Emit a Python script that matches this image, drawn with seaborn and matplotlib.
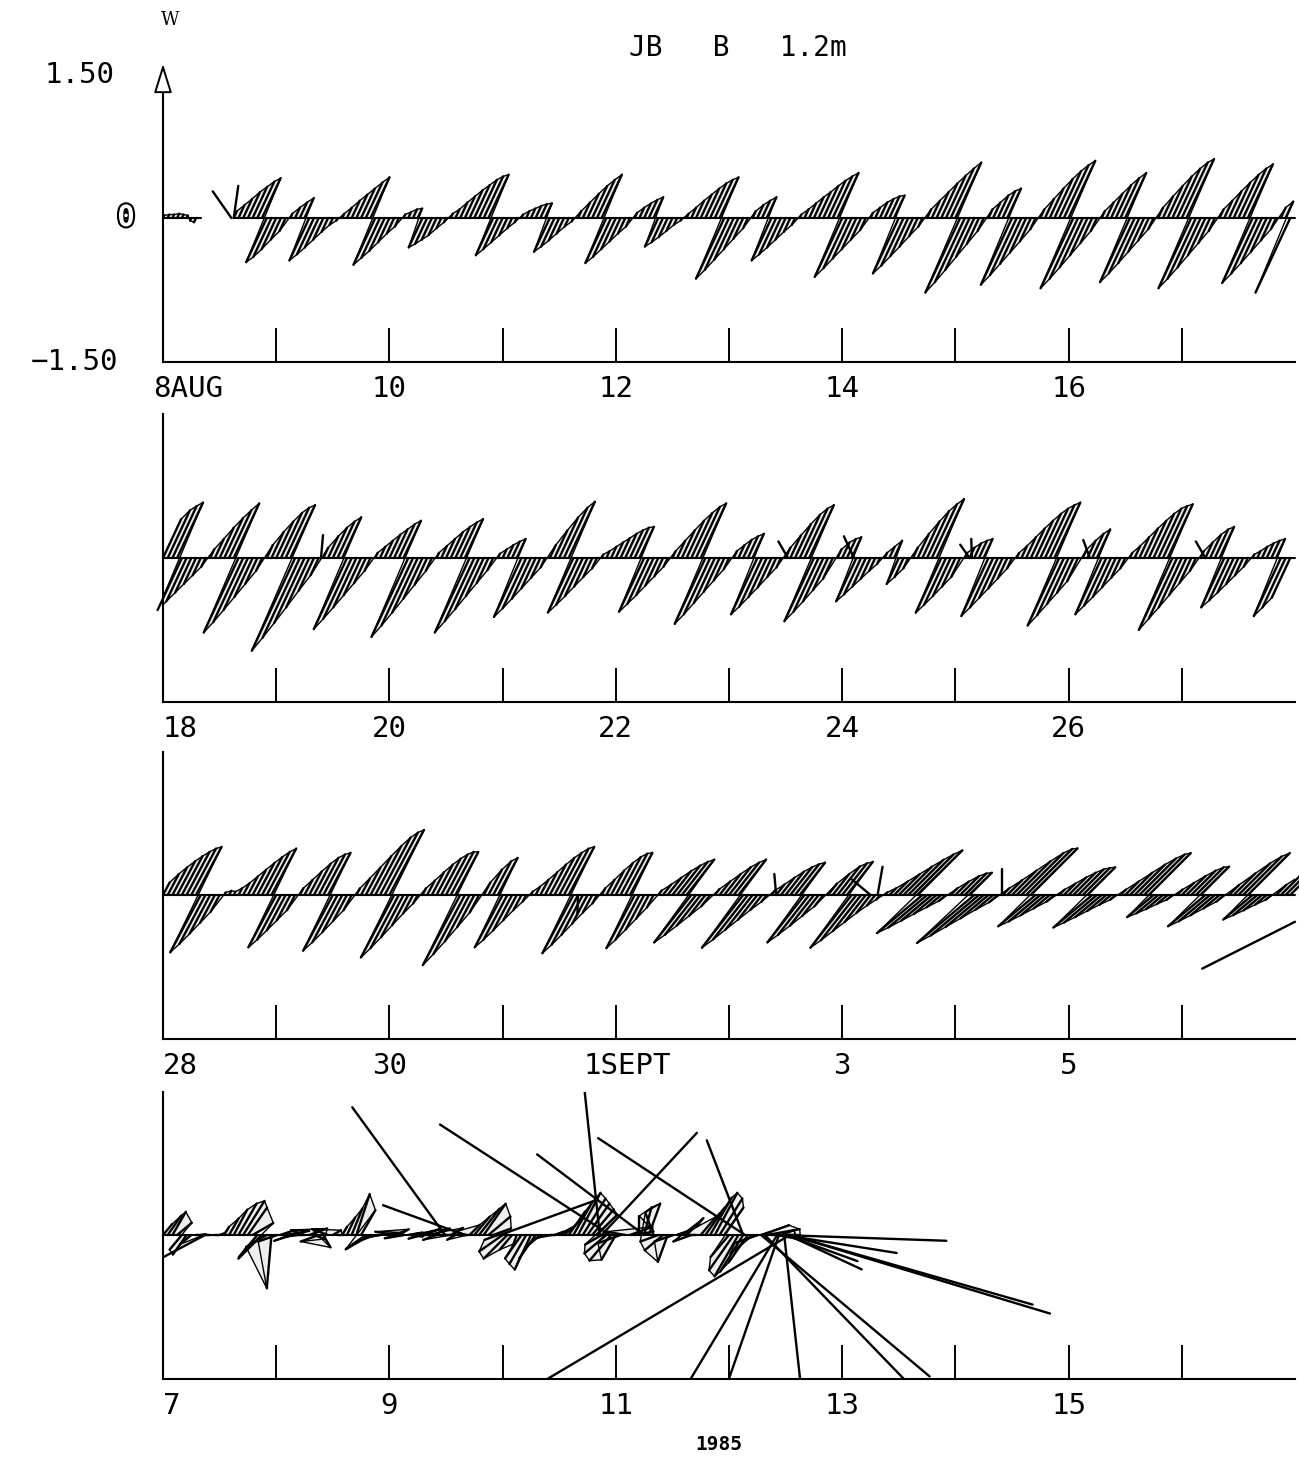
import numpy as np
import pandas as pd
import matplotlib
matplotlib.use("Agg")
import matplotlib.pyplot as plt
import matplotlib.patheffects as pe
from matplotlib.collections import LineCollection, PolyCollection
import seaborn as sns

# ---------------------------------------------------------------- data
# Panels 1-3: hourly current along the principal axis (+ flood, - ebb),
# grouped by tidal cycle: start hour of each cycle and its hourly values.
p1_start = [0, 15, 27, 38, 51, 61, 76, 88, 100, 111, 125, 135, 150, 162, 175, 186, 199, 211, 224, 237]
p1_vals = [
    [0.03, 0.04, 0.04, 0.05, 0.04, 0.03, -0.03, -0.05],
    [0.08, 0.15, 0.22, 0.30, 0.36, 0.42, 0.46, -0.51, -0.45, -0.36, -0.25, -0.15],
    [0.05, 0.12, 0.18, 0.23, -0.49, -0.42, -0.34, -0.25, -0.16, -0.08, -0.03],
    [0.05, 0.12, 0.20, 0.27, 0.34, 0.41, 0.47, -0.54, -0.46, -0.38, -0.28, -0.18, -0.10],
    [0.04, 0.07, 0.10, 0.11, -0.34, -0.30, -0.25, -0.20, -0.12, -0.05],
    [0.05, 0.10, 0.18, 0.25, 0.32, 0.38, 0.44, 0.48, 0.50, -0.43, -0.36, -0.28, -0.20, -0.12, -0.05],
    [0.04, 0.08, 0.11, 0.14, 0.16, 0.17, -0.39, -0.33, -0.26, -0.18, -0.10, -0.04],
    [0.08, 0.18, 0.28, 0.37, 0.44, 0.50, -0.52, -0.45, -0.36, -0.27, -0.18, -0.10],
    [0.06, 0.12, 0.17, 0.21, 0.24, -0.33, -0.28, -0.22, -0.15, -0.08, -0.03],
    [0.05, 0.12, 0.20, 0.27, 0.34, 0.40, 0.44, 0.47, -0.70, -0.60, -0.48, -0.36, -0.24, -0.12],
    [0.08, 0.15, 0.20, 0.24, -0.49, -0.42, -0.34, -0.25, -0.16, -0.08],
    [0.04, 0.10, 0.17, 0.24, 0.30, 0.37, 0.43, 0.48, 0.52, -0.68, -0.58, -0.47, -0.36, -0.25, -0.14],
    [0.06, 0.12, 0.18, 0.22, 0.25, 0.26, -0.64, -0.55, -0.44, -0.33, -0.21, -0.10],
    [0.10, 0.20, 0.30, 0.40, 0.49, 0.57, 0.64, -0.86, -0.74, -0.60, -0.45, -0.30, -0.15],
    [0.10, 0.18, 0.26, 0.31, 0.34, -0.77, -0.66, -0.53, -0.40, -0.27, -0.13],
    [0.10, 0.22, 0.34, 0.45, 0.54, 0.61, 0.66, -0.81, -0.70, -0.57, -0.43, -0.29, -0.15],
    [0.08, 0.18, 0.28, 0.38, 0.46, 0.52, -0.74, -0.64, -0.52, -0.39, -0.26, -0.13],
    [0.12, 0.25, 0.37, 0.48, 0.57, 0.64, 0.68, -0.81, -0.70, -0.57, -0.43, -0.29, -0.15],
    [0.10, 0.20, 0.31, 0.41, 0.50, 0.57, 0.62, -0.75, -0.64, -0.52, -0.39, -0.26, -0.13],
    [0.12, 0.19, -0.86],
]
p1_updir = [65] * 20
p1_dndir = [245] * 20
p1_extra_t = [14.5, 15.0]
p1_extra_spd = [0.34, 0.34]
p1_extra_dir = [125, 82]

p2_start = [0, 10, 22, 34, 45, 58, 71, 82, 93, 108, 121, 132, 143, 153, 159, 170, 181, 195, 205, 220, 231]
p2_vals = [
    [0.45, 0.55, 0.60, 0.64, -0.60, -0.50, -0.40, -0.30, -0.20, -0.10],
    [0.10, 0.22, 0.35, 0.46, 0.55, 0.63, -0.86, -0.74, -0.60, -0.45, -0.30, -0.15],
    [0.15, 0.30, 0.42, 0.52, 0.58, 0.61, -1.07, -0.92, -0.75, -0.57, -0.38, -0.20],
    [0.12, 0.25, 0.35, 0.42, 0.47, -0.82, -0.70, -0.57, -0.43, -0.29, -0.15],
    [0.06, 0.13, 0.20, 0.27, 0.33, 0.39, 0.43, -0.91, -0.78, -0.63, -0.47, -0.31, -0.15],
    [0.06, 0.14, 0.22, 0.30, 0.36, 0.41, 0.45, -0.86, -0.73, -0.59, -0.44, -0.29, -0.14],
    [0.05, 0.10, 0.15, 0.19, 0.22, -0.68, -0.58, -0.47, -0.35, -0.23, -0.11],
    [0.15, 0.32, 0.47, 0.58, 0.65, -0.63, -0.54, -0.44, -0.33, -0.22, -0.12],
    [0.04, 0.08, 0.13, 0.18, 0.23, 0.28, 0.32, 0.35, 0.36, -0.62, -0.53, -0.43, -0.32, -0.21, -0.10],
    [0.08, 0.20, 0.32, 0.43, 0.52, 0.59, 0.63, -0.76, -0.65, -0.52, -0.39, -0.26, -0.13],
    [0.08, 0.15, 0.21, 0.25, 0.28, -0.65, -0.56, -0.45, -0.34, -0.22, -0.11],
    [0.12, 0.26, 0.39, 0.50, 0.57, 0.61, -0.73, -0.62, -0.50, -0.37, -0.24],
    [0.10, 0.18, 0.22, 0.24, -0.50, -0.42, -0.33, -0.24, -0.15, -0.07],
    [0.06, 0.13, 0.20, -0.30, -0.22, -0.12],
    [0.12, 0.28, 0.42, 0.54, 0.62, 0.68, -0.63, -0.54, -0.44, -0.33, -0.22],
    [0.06, 0.12, 0.17, 0.20, 0.22, -0.67, -0.57, -0.46, -0.35, -0.24, -0.12],
    [0.06, 0.14, 0.24, 0.34, 0.43, 0.51, 0.57, 0.61, 0.64, -0.78, -0.66, -0.53, -0.40, -0.27],
    [0.10, 0.20, 0.28, 0.33, -0.65, -0.55, -0.45, -0.34, -0.23, -0.12],
    [0.06, 0.14, 0.24, 0.34, 0.43, 0.51, 0.57, 0.60, 0.62, -0.83, -0.70, -0.57, -0.43, -0.29, -0.15],
    [0.08, 0.18, 0.27, 0.33, 0.36, -0.57, -0.49, -0.40, -0.30, -0.20, -0.10],
    [0.04, 0.08, 0.13, 0.17, 0.20, 0.22, -0.67, -0.57, -0.46],
]
p2_updir = [65] * 21
p2_dndir = [245] * 21
p2_extra_t = [33.5, 132.5, 146.5, 171.0, 171.5, 196.5, 221.0]
p2_extra_spd = [0.24, 0.20, 0.25, 0.17, 0.20, 0.20, 0.20]
p2_extra_dir = [85, 120, 115, 125, 92, 110, 120]

p3_start = [0, 13, 29, 41, 55, 68, 78, 93, 105, 117, 129, 141, 153, 167, 178, 190, 203, 215, 226, 236]
p3_vals = [
    [0.15, 0.25, 0.33, 0.40, 0.46, 0.51, 0.55, 0.57, -0.68, -0.58, -0.46, -0.33, -0.20],
    [0.03, 0.05, 0.04, 0.08, 0.14, 0.22, 0.30, 0.38, 0.45, 0.51, 0.55, -0.62, -0.53, -0.42, -0.30, -0.18],
    [0.08, 0.18, 0.28, 0.37, 0.44, 0.48, 0.50, -0.66, -0.56, -0.44, -0.31, -0.18],
    [0.08, 0.20, 0.33, 0.46, 0.58, 0.68, 0.74, 0.77, -0.74, -0.63, -0.50, -0.36, -0.22, -0.10],
    [0.08, 0.17, 0.27, 0.36, 0.43, 0.48, 0.51, 0.51, -0.83, -0.70, -0.55, -0.38, -0.21],
    [0.15, 0.30, 0.40, 0.44, -0.62, -0.53, -0.42, -0.30, -0.18, -0.08],
    [0.04, 0.10, 0.18, 0.27, 0.36, 0.44, 0.50, 0.55, 0.57, -0.69, -0.59, -0.47, -0.34, -0.21, -0.10],
    [0.08, 0.18, 0.29, 0.38, 0.45, 0.49, 0.50, -0.63, -0.53, -0.41, -0.28, -0.15],
    [0.06, 0.14, 0.23, 0.32, 0.39, 0.44, 0.47, -0.63, -0.53, -0.41, -0.28, -0.15],
    [0.08, 0.18, 0.28, 0.37, 0.43, 0.47, -0.70, -0.59, -0.46, -0.33, -0.20, -0.09],
    [0.06, 0.14, 0.23, 0.31, 0.37, 0.41, 0.43, -0.63, -0.53, -0.41, -0.28, -0.15],
    [0.15, 0.28, 0.38, 0.42, 0.44, -0.70, -0.60, -0.48, -0.36, -0.24, -0.14, -0.06],
    [0.04, 0.10, 0.20, 0.31, 0.42, 0.52, 0.60, 0.66, -0.62, -0.53, -0.42, -0.31, -0.20, -0.10],
    [0.10, 0.20, 0.28, 0.32, 0.33, -0.78, -0.66, -0.52, -0.38, -0.24, -0.12],
    [0.10, 0.22, 0.36, 0.50, 0.62, 0.68, 0.69, -0.51, -0.43, -0.33, -0.22, -0.11],
    [0.08, 0.17, 0.26, 0.33, 0.38, 0.40, 0.41, -0.53, -0.45, -0.36, -0.26, -0.16, -0.08],
    [0.08, 0.20, 0.33, 0.45, 0.54, 0.60, 0.62, -0.36, -0.30, -0.23, -0.15, -0.08],
    [0.08, 0.18, 0.28, 0.36, 0.41, 0.42, -0.51, -0.43, -0.33, -0.22, -0.11],
    [0.15, 0.32, 0.47, 0.57, 0.62, -0.40, -0.33, -0.25, -0.16, -0.08],
    [0.15, 0.28, 0.38, 0.42],
]
p3_updir = [62, 62, 62, 62, 62, 62, 62, 62, 52, 52, 52, 52, 45, 45, 45, 45, 45, 45, 45, 45]
p3_dndir = [242, 242, 242, 242, 242, 242, 242, 242, 232, 232, 232, 232, 220, 220, 220, 220, 220, 220, 220, 220]
p3_extra_t = [88.0, 130.0, 150.0, 151.5, 177.8]
p3_extra_spd = [0.20, 0.22, 0.25, 0.30, 0.27]
p3_extra_dir = [268, 95, 140, 80, 90]
p3_free_x = [9.18, 10.0]      # detached segment, days
p3_free_y = [-0.77, -0.28]

# Panel 4: hourly small vectors (speed, direction in degrees) then large excursions
p4_small_spd = [0.15, 0.25, 0.28, 0.20, 0.20, 0.25, 0.15, 0.08, 0.05, 0.03,
                0.03, 0.04, 0.05, 0.10, 0.20, 0.30, 0.38, 0.42, 0.35, 0.25,
                0.30, 0.35, 0.25, 0.56, 0.20, 0.15, 0.25, 0.18, 0.10, 0.05,
                0.15, 0.20, 0.12, 0.20, 0.15, 0.18, 0.10, 0.05, 0.10, 0.20,
                0.30, 0.45, 0.30, 0.25, 0.30, 0.20, 0.15, 0.10, 0.15, 0.20,
                0.12, 0.20, 0.15, 0.10, 0.25, 0.15, 0.10, 0.20, 0.15, 0.10,
                0.20, 0.15, 0.10, 0.08, 0.10, 0.15, 0.25, 0.35, 0.40, 0.30,
                0.20, 0.15, 0.30, 0.35, 0.20, 0.10, 0.30, 0.35, 0.40, 0.30,
                0.20, 0.10, 0.05, 0.10, 0.15, 0.20, 0.30, 0.40, 0.50, 0.45,
                0.40, 0.35, 0.30, 0.20, 0.30, 0.35, 0.30, 0.25, 0.20, 0.25,
                0.20, 0.20, 0.30, 0.35, 0.25, 0.20, 0.25, 0.30, 0.20, 0.15,
                0.20, 0.25, 0.20, 0.15, 0.25, 0.35, 0.45, 0.50, 0.45, 0.35,
                0.30, 0.45, 0.50, 0.45, 0.35, 0.30, 0.25, 0.30, 0.35, 0.30,
                0.20, 0.15, 0.10]
p4_small_dir = [50, 55, 60, 40, 230, 235, 220, 0, 10, 0,
                180, 0, 20, 60, 60, 62, 60, 58, 55, 30,
                230, 225, 210, 265, 200, 20, 10, 200, 190, 0,
                160, 20, 340, 200, 300, 160, 30, 0, 60, 65,
                68, 72, 60, 215, 210, 200, 190, 10, 10, 170,
                30, 190, 10, 350, 15, 195, 170, 20, 200, 0,
                180, 30, 210, 0, 160, 45, 50, 52, 55, 40,
                20, 200, 215, 225, 230, 250, 235, 240, 245, 235,
                220, 200, 0, 20, 30, 40, 55, 60, 62, 58,
                55, 50, 45, 210, 220, 230, 240, 200, 170, 20,
                10, 90, 75, 70, 110, 200, 220, 250, 200, 20,
                30, 45, 200, 180, 50, 55, 60, 62, 58, 55,
                230, 235, 240, 238, 235, 220, 200, 20, 10, 0,
                350, 20, 0]
p4_big_t = [59.8, 94.8, 92.6, 102.0, 93.0, 123.0, 64.0, 131.0, 132.9, 132.9, 131.5,
            132.9, 130.2, 130.6, 131.7, 127.6, 126.8, 123.4, 132.0, 132.5, 71.5, 8.9]
p4_big_spd = [1.65, 2.12, 1.52, 1.40, 1.46, 1.06, 0.91, 1.73, 2.84, 2.64, 1.20,
              3.00, 1.80, 1.60, 1.55, 2.15, 2.30, 1.84, 0.80, 0.85, 1.07, 0.50]
p4_big_dir = [126, 147, 96, 143, 47, 111, 160, -2, -16.8, -16, -9,
              210.7, 239, 250.8, 276.3, 314, 320, 146.6, -20, -25, 20, 208]

day_labels = [["8AUG", "10", "12", "14", "16"],
              ["18", "20", "22", "24", "26"],
              ["28", "30", "1SEPT", "3", "5"],
              ["7", "9", "11", "13", "15"]]
title_text = "JB   B   1.2m"
year_text = "1985"

# ---------------------------------------------------------------- helpers
W, H = 1299, 1468
AX_L, AX_W, AX_H = 163, 1132, 287
ZERO_PX = [218, 558, 895, 1235]
K = (AX_H / 3.0) / (AX_W / 10.0)   # days per velocity unit (keeps angles true)


def expand(starts, vals, updir, dndir):
    rows = []
    for k, (st, vv) in enumerate(zip(starts, vals)):
        for i, v in enumerate(vv):
            rows.append((st + i, abs(v), updir[k] if v >= 0 else dndir[k]))
    return pd.DataFrame(rows, columns=["t", "s", "d"])


def geom(df):
    df = df.copy()
    x0 = df["t"].to_numpy() / 24.0
    r = np.deg2rad(df["d"].to_numpy())
    df["x0"] = x0
    df["x1"] = x0 + df["s"].to_numpy() * np.cos(r) * K
    df["y1"] = df["s"].to_numpy() * np.sin(r)
    return df


def draw_series(ax, df, clip=False, trace=True, fill=True, base=True):
    df = geom(df).sort_values("t").reset_index(drop=True)
    run = (df["t"].diff().fillna(1) > 1.01).cumsum()
    df["run"] = run
    if fill:
        polys = []
        for i in range(len(df) - 1):
            a, b = df.iloc[i], df.iloc[i + 1]
            if a["run"] == b["run"] and np.sign(a["y1"]) == np.sign(b["y1"]):
                polys.append([(a["x0"], 0), (a["x1"], a["y1"]), (b["x1"], b["y1"]), (b["x0"], 0)])
        pc = PolyCollection(polys, facecolor="#eeeeee", edgecolor="none", zorder=1)
        pc.set_clip_on(clip)
        ax.add_collection(pc)
    if base:
        for _, g in df.groupby("run"):
            ax.plot([g["x0"].min(), g["x0"].max() + 1 / 24.0], [0, 0], color="black",
                    lw=1.5, zorder=2, clip_on=clip)
    segs = [[(r.x0, 0.0), (r.x1, r.y1)] for r in df.itertuples()]
    lc = LineCollection(segs, colors="black", linewidths=1.7, zorder=3, capstyle="round")
    lc.set_clip_on(clip)
    ax.add_collection(lc)
    if trace:
        sns.lineplot(data=df, x="x1", y="y1", units="run", estimator=None, sort=False,
                     color="black", lw=1.0, ax=ax, legend=False, zorder=3)
    return df


def draw_extra(ax, t, s, d, clip=False):
    df = pd.DataFrame({"t": t, "s": s, "d": d})
    draw_series(ax, df, clip=clip, trace=False, fill=False, base=False)


# ---------------------------------------------------------------- figure
sns.set_theme(style="white")
plt.rcParams["font.family"] = ["DejaVu Sans Mono", "DejaVu Sans"]
plt.rcParams["text.color"] = "black"
fig = plt.figure(figsize=(W / 100, H / 100), dpi=100)

axes = []
for zp in ZERO_PX:
    bottom = zp + AX_H / 2.0
    ax = fig.add_axes([AX_L / W, 1 - bottom / H, AX_W / W, AX_H / H])
    ax.set_xlim(0, 10)
    ax.set_ylim(-1.5, 1.5)
    ax.set_facecolor("none")
    for sp in ["top", "right"]:
        ax.spines[sp].set_visible(False)
    for sp in ["left", "bottom"]:
        ax.spines[sp].set_color("black")
        ax.spines[sp].set_linewidth(1.5)
    ax.set_xticks(range(1, 10))
    ax.set_yticks([])
    ax.tick_params(axis="x", bottom=True, direction="in", length=24.5, width=1.4,
                   color="black", labelbottom=False)
    ax.grid(False)
    axes.append(ax)

ax1, ax2, ax3, ax4 = axes

draw_series(ax1, expand(p1_start, p1_vals, p1_updir, p1_dndir))
draw_extra(ax1, p1_extra_t, p1_extra_spd, p1_extra_dir)
draw_series(ax2, expand(p2_start, p2_vals, p2_updir, p2_dndir))
draw_extra(ax2, p2_extra_t, p2_extra_spd, p2_extra_dir)
draw_series(ax3, expand(p3_start, p3_vals, p3_updir, p3_dndir))
draw_extra(ax3, p3_extra_t, p3_extra_spd, p3_extra_dir)
ax3.plot(p3_free_x, p3_free_y, color="black", lw=1.7, clip_on=False)

p4_df = pd.DataFrame({"t": np.arange(len(p4_small_spd)), "s": p4_small_spd, "d": p4_small_dir})
draw_series(ax4, p4_df, clip=True)
draw_extra(ax4, p4_big_t, p4_big_spd, p4_big_dir, clip=True)

for ax in axes:
    ax.set_xlim(0, 10)
    ax.set_ylim(-1.5, 1.5)
    ax.set_xlabel("")
    ax.set_ylabel("")

# date labels under each panel
for ax, labs in zip(axes, day_labels):
    for j, lab in enumerate(labs):
        x = 2 * j
        ha = "center"
        if j == 0:
            ha = "left"
            if lab == "8AUG":
                x = -10 / 113.2
        elif lab == "1SEPT":
            ha = "left"
            x = 2 * j - 32 / 113.2
        ax.text(x, -0.095, lab, transform=ax.get_xaxis_transform(), ha=ha, va="center",
                fontsize=21, color="black")

# y-axis arrow and labels on first panel
ax1.annotate("", xy=(0, 1.64), xytext=(0, 1.25), xycoords="data",
             arrowprops=dict(arrowstyle="-|>,head_length=0.9,head_width=0.28", lw=1.4,
                             fc="white", ec="black", mutation_scale=20),
             annotation_clip=False)
fig.text(115 / W, 1 - 75 / H, "1.50", ha="right", va="center", fontsize=21, color="black")
fig.text(118 / W, 1 - 362 / H, "\u22121.50", ha="right", va="center", fontsize=21, color="black")
fig.text(126 / W, 1 - 218 / H, "0", ha="center", va="center", fontsize=21, color="white",
         fontweight="bold", path_effects=[pe.withStroke(linewidth=3, foreground="black")])
fig.text(170 / W, 1 - 20 / H, "W", ha="center", va="center", fontsize=13,
         family="DejaVu Serif", color="black")
fig.text(738 / W, 1 - 48 / H, title_text, ha="center", va="center", fontsize=20, color="black")
fig.text(719 / W, 1 - 1445 / H, year_text, ha="center", va="center", fontsize=14,
         fontweight="bold", color="black")

fig.savefig("out.png", dpi=100, facecolor="white")
